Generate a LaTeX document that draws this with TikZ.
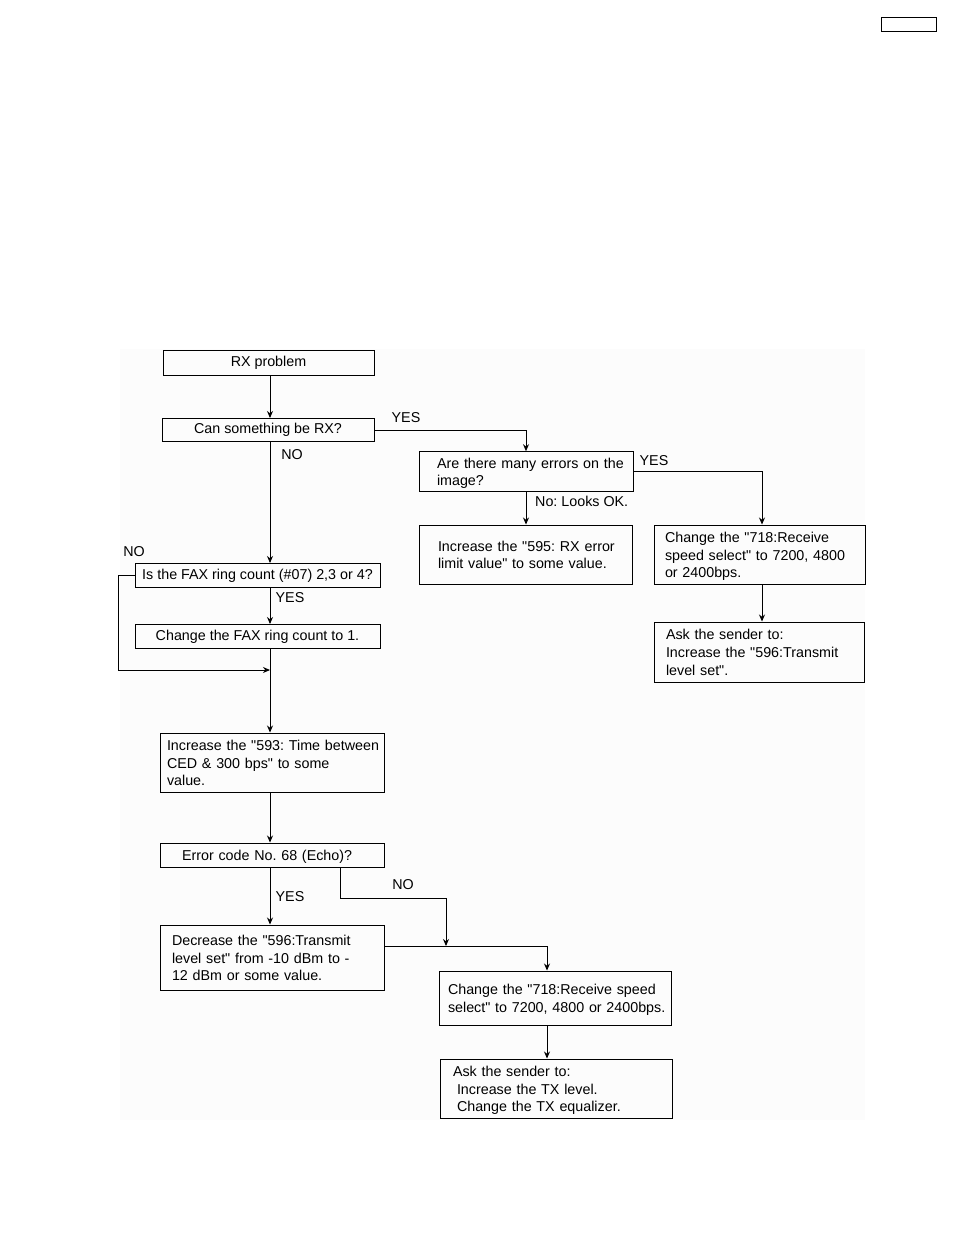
\documentclass[tikz,border=0pt]{standalone}
\usepackage{fontspec}
\setmainfont{Liberation Sans}[Ligatures=TeXOff]
\usepackage{tikz}
\usetikzlibrary{positioning,arrows,arrows.meta}
\newcommand{\fcfont}{\fontsize{14.3}{17.8}\selectfont\frenchspacing}
% text block, pushed #1 pt to the right inside its box
\newcommand{\fclines}[2]{\hspace*{#1pt}\raisebox{-2pt}[\height][\depth]{\begin{tabular}{@{}l@{}}#2\end{tabular}}}
\tikzset{
  fc_box/.style = {rectangle, draw=black, line width=1pt, inner ysep=2pt,
    font=\fcfont},
  fc_c/.style = {fc_box, align=center},% box, centered text
  fc_l/.style = {fc_box, align=left, inner xsep=4pt},% box, text on the left
  fc_lbl/.style = {inner sep=0pt, font=\fcfont},
  fc_ln/.style = {line width=0.9pt}
}

\begin{document}
\begin{tikzpicture}[x=1pt,y=-1pt,>={Stealth[length=7pt,width=6pt]}]
\useasboundingbox (0,0) rectangle (954,1235);
\fill[black!1] (120,349) rectangle (865,1120);
\node [fc_box, minimum width=55pt, minimum height=14pt, inner sep=0pt] (pgbox) at (908.5,24) {};

% left column
\node [fc_c, minimum width=211pt, minimum height=25pt] (rx) at (268.5,363) {RX problem};
\node [fc_c, minimum width=212pt, minimum height=23pt] (can) at (268,430) {Can something be RX?};
\node [fc_c, minimum width=245pt, minimum height=24pt] (fax) at (257.5,575.5) {Is the FAX ring count (\#07) 2,3 or 4?};
\node [fc_c, minimum width=245pt, minimum height=24pt] (ring) at (257.5,636.5) {Change the FAX ring count to 1.};
\node [fc_l, text width=216pt, minimum height=59pt] (ced) at (272,762.5)
  {\fclines{3}{Increase the "593: Time between\\CED \& 300 bps" to some\\value.}};
\node [fc_l, text width=216pt, minimum height=24pt] (echo) at (272,855)
  {\fclines{18}{Error code No. 68 (Echo)?}};
\node [fc_l, text width=216pt, minimum height=65pt] (txlvl) at (272,957.5)
  {\fclines{8}{Decrease the "596:Transmit\\level set" from -10 dBm to -\\12 dBm or some value.}};
\node [fc_l, text width=224pt, minimum height=54pt] (speedb) at (555,998)
  {\fclines{5}{Change the "718:Receive speed\\select" to 7200, 4800 or 2400bps.}};
\node [fc_l, text width=224pt, minimum height=59pt] (askb) at (556,1088.5)
  {\fclines{9}{Ask the sender to:\\\hspace*{4pt}Increase the TX level.\\\hspace*{4pt}Change the TX equalizer.}};

% right column
\node [fc_l, text width=206pt, minimum height=39pt] (errs) at (526,471.5)
  {\fclines{14}{Are there many errors on the\\image?}};
\node [fc_l, text width=205pt, minimum height=59pt] (limit) at (525.5,554.5)
  {\fclines{15}{Increase the "595: RX error\\limit value" to some value.}};
\node [fc_l, text width=203pt, minimum height=59pt] (speedr) at (759.5,554.5)
  {\fclines{7}{Change the "718:Receive\\speed select" to 7200, 4800\\or 2400bps.}};
\node [fc_l, text width=202pt, minimum height=60pt] (askr) at (759,652)
  {\fclines{8}{Ask the sender to:\\Increase the "596:Transmit\\level set".}};

% labels
\node [fc_lbl] (yes1) at (406,418) {YES};
\node [fc_lbl] (no1) at (292,455) {NO};
\node [fc_lbl] (no2) at (134,552) {NO};
\node [fc_lbl] (yes2) at (290,598) {YES};
\node [fc_lbl] (yes3) at (290,897) {YES};
\node [fc_lbl] (no3) at (403,885) {NO};
\node [fc_lbl] (yes4) at (654,461) {YES};
\node [fc_lbl, anchor=west] (ok) at (535,501) {No: Looks OK.};

\coordinate (merge) at (270,670);
\coordinate (join) at (446,946);

% connectors
\draw [fc_ln,->] (rx.south -| merge) -- (can.north -| merge);
\draw [fc_ln,->] (can.east) -| (errs.north);
\draw [fc_ln,->] (can.south -| merge) -- (fax.north -| merge);
\draw [fc_ln,->] (fax.south -| merge) -- (ring.north -| merge);
\draw [fc_ln,->] (fax.west) -- ++(-16,0) |- (merge);
\draw [fc_ln,->] (ring.south -| merge) -- (ced.north -| merge);
\draw [fc_ln,->] (ced.south -| merge) -- (echo.north -| merge);
\draw [fc_ln,->] (echo.south -| merge) -- (txlvl.north -| merge);
\draw [fc_ln,->] ([xshift=68pt]echo.south) -- ++(0,31) -| (join);
\draw [fc_ln,->] (txlvl.east |- join) -| ([xshift=-8pt]speedb.north);
\draw [fc_ln,->] ([xshift=-8pt]speedb.south) -- ([xshift=-8pt]speedb.south |- askb.north);
\draw [fc_ln,->] (errs.south) -- (errs.south |- limit.north);
\draw [fc_ln,->] (errs.east) -| ([xshift=2.5pt]speedr.north);
\draw [fc_ln,->] ([xshift=2.5pt]speedr.south) -- ([xshift=2.5pt]speedr.south |- askr.north);
\end{tikzpicture}
\end{document}
